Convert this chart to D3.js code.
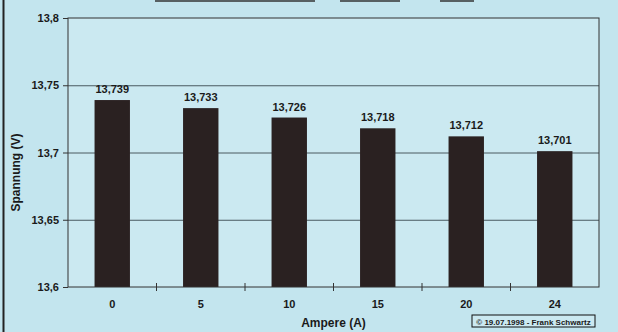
<!DOCTYPE html>
<meta charset="utf-8">
<script src="https://d3js.org/d3.v7.min.js"></script>
<style>
  body { margin: 0; background: #c3e5ee; }
  text { font-family: Arial, "Liberation Sans", sans-serif; font-weight: bold; fill: #1a1a1a; }
</style>
<div id="chart"></div>
<script>
// values
var amps = ["0", "5", "10", "15", "20", "24"];
var volts = [13.739, 13.733, 13.726, 13.718, 13.712, 13.701];
var voltLabels = ["13,739", "13,733", "13,726", "13,718", "13,712", "13,701"];
var yTicks = [13.6, 13.65, 13.7, 13.75, 13.8];
var yTickLabels = ["13,6", "13,65", "13,7", "13,75", "13,8"];

var W = 618, H = 332;
var margin = {top: 18, right: 19, bottom: 45, left: 68},
    width = W - margin.left - margin.right,
    height = H - margin.top - margin.bottom;

var root = d3.select("#chart").append("svg")
    .attr("width", W)
    .attr("height", H);

root.append("rect").attr("width", W).attr("height", H).attr("fill", "#c3e5ee");
// page edge on the left
root.append("line").attr("x1", 3.5).attr("x2", 3.5).attr("y1", 0).attr("y2", H)
    .attr("stroke", "#222").attr("stroke-width", 2);
// remains of the cut-off title underline
[[155, 315], [340, 400], [440, 474]].forEach(function(s) {
  root.append("line").attr("x1", s[0]).attr("x2", s[1]).attr("y1", 1).attr("y2", 1)
    .attr("stroke", "#333").attr("stroke-width", 1.5);
});

var svg = root.append("g")
    .attr("transform", "translate(" + margin.left + "," + margin.top + ")");

var x = d3.scaleBand()
    .domain(amps)
    .range([0, width])
    .paddingInner(0.6)
    .paddingOuter(0.3);

var y = d3.scaleLinear()
    .domain([13.6, 13.8])
    .range([height, 0]);

// plot area
svg.append("rect")
    .attr("width", width).attr("height", height)
    .attr("fill", "#cbe9f1");

// grid lines
svg.append("g")
  .selectAll("line")
  .data(yTicks.slice(1, -1))
  .enter().append("line")
    .attr("x1", 0).attr("x2", width)
    .attr("y1", function(d) { return y(d) + 0.5; })
    .attr("y2", function(d) { return y(d) + 0.5; })
    .attr("stroke", "#4a5a60")
    .attr("stroke-width", 1);

// bars
svg.append("g")
  .selectAll("rect")
  .data(volts)
  .enter().append("rect")
    .attr("x", function(d, i) { return x(amps[i]); })
    .attr("y", function(d) { return y(d); })
    .attr("width", x.bandwidth())
    .attr("height", function(d) { return height - y(d); })
    .attr("fill", "#2a2121");

// value labels
svg.append("g")
  .selectAll("text")
  .data(volts)
  .enter().append("text")
    .attr("x", function(d, i) { return x(amps[i]) + x.bandwidth() / 2; })
    .attr("y", function(d) { return y(d) - 7; })
    .attr("text-anchor", "middle")
    .style("font-size", "11px")
    .text(function(d, i) { return voltLabels[i]; });

// frame
svg.append("rect")
    .attr("width", width).attr("height", height)
    .attr("fill", "none").attr("stroke", "#333").attr("stroke-width", 1);

// Y axis
var yAxis = d3.axisLeft(y)
    .tickValues(yTicks)
    .tickFormat(function(d, i) { return yTickLabels[i]; })
    .tickSize(5)
    .tickPadding(4);
var gy = svg.append("g").call(yAxis);
gy.select(".domain").remove();
gy.selectAll("line").attr("stroke", "#333");
gy.selectAll("text").style("font-size", "11px").attr("fill", "#1a1a1a");

// X axis: ticks between bars
var bandStep = x.step();
var gx = svg.append("g").attr("transform", "translate(0," + height + ")");
gx.selectAll("line")
  .data(amps.slice(1))
  .enter().append("line")
    .attr("x1", function(d) { return x(d) - x.bandwidth() * 0.75 - 0.5 * (bandStep - x.bandwidth()) + x.bandwidth() * 0.75; })
    .attr("x2", function(d) { return x(d) - 0.5 * (bandStep - x.bandwidth()); })
    .attr("y1", -4).attr("y2", 4)
    .attr("stroke", "#333");
gx.selectAll("text")
  .data(amps)
  .enter().append("text")
    .attr("x", function(d) { return x(d) + x.bandwidth() / 2; })
    .attr("y", 21)
    .attr("text-anchor", "middle")
    .style("font-size", "11px")
    .text(function(d) { return d; });

// axis titles
svg.append("text")
    .attr("x", width / 2)
    .attr("y", height + 40)
    .attr("text-anchor", "middle")
    .style("font-size", "12px")
    .text("Ampere (A)");

svg.append("text")
    .attr("transform", "translate(" + (-48) + "," + (height / 2 + 20) + ") rotate(-90)")
    .attr("text-anchor", "middle")
    .style("font-size", "12px")
    .text("Spannung (V)");

// copyright box
var cp = root.append("g").attr("transform", "translate(472,315)");
cp.append("rect").attr("width", 123).attr("height", 12)
    .attr("fill", "#cbe9f1").attr("stroke", "#111").attr("stroke-width", 1);
cp.append("text").attr("x", 61.5).attr("y", 9.5)
    .attr("text-anchor", "middle")
    .style("font-size", "8px")
    .text("© 19.07.1998 - Frank Schwartz");
</script>
